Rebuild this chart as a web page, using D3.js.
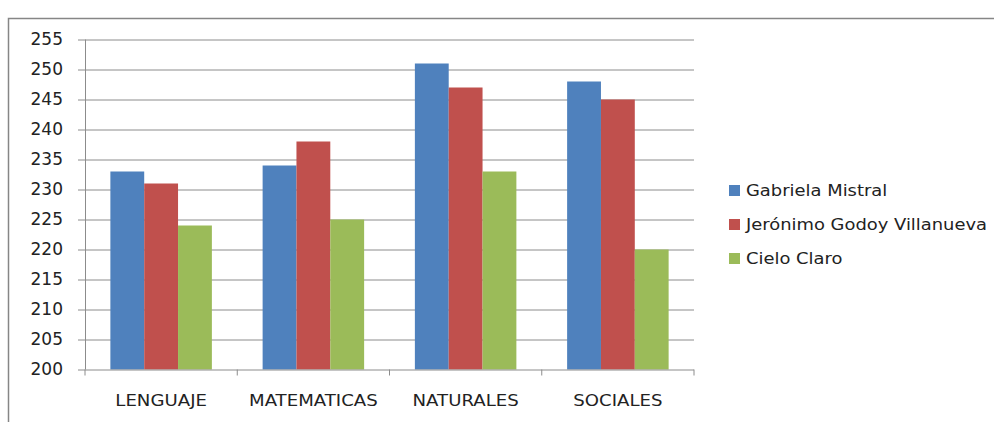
<!DOCTYPE html>
<html>
<head>
<meta charset="utf-8">
<script src="https://cdn.jsdelivr.net/npm/d3@7"></script>
<style>
  body { margin: 0; background: #fff; }
  text { font-family: "DejaVu Sans", sans-serif; fill: #222; }
</style>
</head>
<body>
<div id="chart"></div>
<script>
var categories = ["LENGUAJE", "MATEMATICAS", "NATURALES", "SOCIALES"];
var seriesNames = ["Gabriela Mistral", "Jerónimo Godoy Villanueva", "Cielo Claro"];
var gabriela = [233, 234, 251, 248];
var jeronimo = [231, 238, 247, 245];
var cielo = [224, 225, 233, 220];
var yTicks = [200, 205, 210, 215, 220, 225, 230, 235, 240, 245, 250, 255];
var palette = ["#4f81bd", "#c0504d", "#9bbb59"];

var seriesValues = [gabriela, jeronimo, cielo];
var rows = categories.map(function (c, i) {
    return { cat: c, values: seriesValues.map((s, j) => ({ name: seriesNames[j], value: s[i] })) };
});

var width = 994, height = 422;
var margin = { top: 39.5, left: 85, right: 300, bottom: 52.5 };
var plotW = 694 - margin.left;
var plotH = 369.5 - margin.top;

var svg = d3.select("#chart").append("svg")
    .attr("width", width)
    .attr("height", height);

// outer chart border (runs off the picture at right and bottom)
svg.append("rect")
    .attr("x", 8.5).attr("y", 18.5)
    .attr("width", 1000).attr("height", 420)
    .attr("fill", "none")
    .attr("stroke", "#868686")
    .attr("stroke-width", 1.5);

var canvas = svg.append("g")
    .attr("transform", "translate(" + margin.left + "," + margin.top + ")");

//Scale definition
var x0 = d3.scaleBand()
    .domain(categories)
    .range([0, plotW])
    .paddingInner(0.0)
    .paddingOuter(0.0);
var x1 = d3.scaleBand()
    .domain(seriesNames)
    .range([x0.bandwidth() * 0.75 / 4.5, x0.bandwidth() * 3.75 / 4.5]);
var y = d3.scaleLinear()
    .domain([200, 255])
    .range([plotH, 0]);
var color = d3.scaleOrdinal().domain(seriesNames).range(palette);

// gridlines
canvas.append("g")
    .selectAll("line")
    .data(yTicks.slice(1))
    .enter().append("line")
    .attr("x1", 0).attr("x2", plotW)
    .attr("y1", d => Math.round(y(d)) + 0.5)
    .attr("y2", d => Math.round(y(d)) + 0.5)
    .attr("stroke", "#8c8c8c")
    .attr("stroke-width", 1);

// bars
var group = canvas.selectAll(".grp")
    .data(rows)
    .enter().append("g")
    .attr("class", "grp")
    .attr("transform", d => "translate(" + x0(d.cat) + ",0)");

group.selectAll("rect")
    .data(d => d.values)
    .enter().append("rect")
    .attr("x", d => x1(d.name))
    .attr("width", x1.bandwidth())
    .attr("y", d => y(d.value))
    .attr("height", d => y(200) - y(d.value))
    .attr("fill", d => color(d.name));

// y axis
var yAxis = canvas.append("g")
    .call(d3.axisLeft(y).tickValues(yTicks).tickSize(7).tickPadding(15).tickFormat(d3.format("d")));
yAxis.select(".domain").attr("stroke", "#8c8c8c").attr("d", "M0.5," + plotH + "V0");
yAxis.selectAll(".tick line").attr("stroke", "#8c8c8c");
yAxis.selectAll(".tick text")
    .style("font-size", "17px")
    .style("font-family", "DejaVu Sans")
    .attr("fill", "#222");

// x axis with ticks at category boundaries
var xAxis = canvas.append("g")
    .attr("transform", "translate(0," + plotH + ")");
xAxis.append("line")
    .attr("x1", 0).attr("x2", plotW)
    .attr("y1", 0.5).attr("y2", 0.5)
    .attr("stroke", "#8c8c8c");
xAxis.selectAll(".btick")
    .data(categories.map(c => x0(c)).concat([plotW]))
    .enter().append("line")
    .attr("class", "btick")
    .attr("x1", d => d).attr("x2", d => d)
    .attr("y1", 0).attr("y2", 6)
    .attr("stroke", "#8c8c8c");
// labels are a bit wider than DejaVu, so stretch them horizontally
xAxis.selectAll(".clabel")
    .data(categories)
    .enter().append("text")
    .attr("class", "clabel")
    .attr("transform", d => "translate(" + (x0(d) + x0.bandwidth() / 2) + ",36) scale(1.17,1)")
    .attr("text-anchor", "middle")
    .style("font-size", "15.5px")
    .text(d => d);

// legend
var legend = svg.append("g")
    .attr("transform", "translate(729,0)");
var legendY = d3.scalePoint().domain(seriesNames).range([190, 258]);
var item = legend.selectAll(".leg")
    .data(seriesNames)
    .enter().append("g")
    .attr("class", "leg")
    .attr("transform", d => "translate(0," + legendY(d) + ")");
item.append("rect")
    .attr("x", 0).attr("y", -5)
    .attr("width", 11).attr("height", 11)
    .attr("fill", d => color(d));
item.append("text")
    .attr("transform", "translate(17,6) scale(1.12,1)")
    .style("font-size", "16px")
    .text(d => d);
</script>
</body>
</html>
